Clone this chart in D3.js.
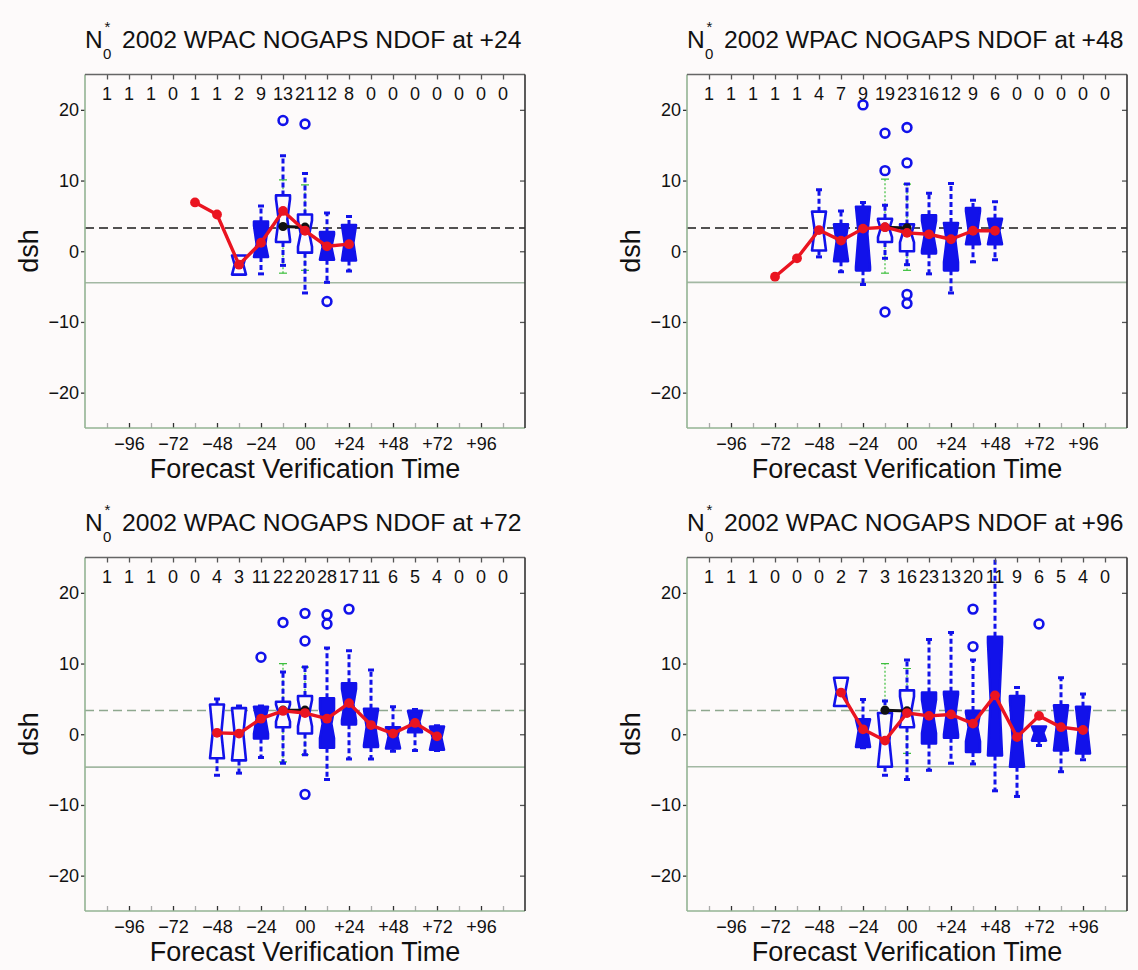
<!DOCTYPE html>
<html>
<head>
<meta charset="utf-8">
<script src="https://cdn.jsdelivr.net/npm/d3@7"></script>
<style>
  html, body { margin: 0; padding: 0; background: #fdfafa; }
  svg { display: block; font-family: "Liberation Sans", Arial, Helvetica, sans-serif; }
</style>
</head>
<body>
<svg id="chart" width="1138" height="970"></svg>
<script>
// ---------------- axis definitions ----------------
const tickHours = [-108, -96, -84, -72, -60, -48, -36, -24, -12, 0, 12, 24, 36, 48, 60, 72, 84, 96, 108];
const labelHours = [-96, -72, -48, -24, 0, 24, 48, 72, 96];
const labelText = ["\u221296", "\u221272", "\u221248", "\u221224", "00", "+24", "+48", "+72", "+96"];
const yTickValues = [20, 10, 0, -10, -20];
const yTickText = ["20", "10", "0", "\u221210", "\u221220"];
const leadLabels = ["+24", "+48", "+72", "+96"];

// reference levels (dashed upper, solid lower) per panel
const upperRef = [3.3, 3.3, 3.35, 3.35];
const lowerRef = [-4.45, -4.4, -4.65, -4.6];

// ---------------- sample counts per verification time ----------------
const counts24 = [1, 1, 1, 0, 1, 1, 2, 9, 13, 21, 12, 8, 0, 0, 0, 0, 0, 0, 0];
const counts48 = [1, 1, 1, 1, 1, 4, 7, 9, 19, 23, 16, 12, 9, 6, 0, 0, 0, 0, 0];
const counts72 = [1, 1, 1, 0, 0, 4, 3, 11, 22, 20, 28, 17, 11, 6, 5, 4, 0, 0, 0];
const counts96 = [1, 1, 1, 0, 0, 0, 2, 7, 3, 16, 23, 13, 20, 11, 9, 6, 5, 4, 0];

// ---------------- mean curve (red) ----------------
const meanHours24 = [-60, -48, -36, -24, -12, 0, 12, 24];
const means24 = [6.9, 5.2, -1.9, 1.2, 5.7, 2.9, 0.7, 1.0];
const meanHours48 = [-72, -60, -48, -36, -24, -12, 0, 12, 24, 36, 48];
const means48 = [-3.6, -1.0, 3.0, 1.5, 3.2, 3.4, 2.6, 2.4, 1.7, 2.9, 2.9];
const meanHours72 = [-48, -36, -24, -12, 0, 12, 24, 36, 48, 60, 72];
const means72 = [0.2, 0.1, 2.2, 3.3, 3.0, 2.2, 4.4, 1.3, 0.1, 1.6, -0.3];
const meanHours96 = [-36, -24, -12, 0, 12, 24, 36, 48, 60, 72, 84, 96];
const means96 = [5.9, 0.7, -0.9, 3.0, 2.6, 2.8, 1.5, 5.5, -0.4, 2.6, 1.0, 0.6];

// ---------------- box statistics ----------------
const boxHours24 = [-36, -24, -12, 0, 12, 24];
const q1_24  = [-3.3, -0.8, 1.3, -0.2, -1.2, -1.3];
const med24  = [-1.9, 1.0, 4.5, 2.5, 0.6, 1.2];
const q3_24  = [-0.6, 4.2, 7.9, 5.2, 2.7, 3.7];
const lo24   = [-3.3, -3.2, -2.0, -5.9, -4.4, -2.8];
const hi24   = [-0.6, 6.4, 13.5, 11.0, 5.4, 4.9];
const hollow24 = [1, 0, 1, 1, 0, 0];
const outliers24 = [[-12, 18.5], [0, 18.0], [12, -7.1]];

const boxHours48 = [-48, -36, -24, -12, 0, 12, 24, 36, 48];
const q1_48  = [0.1, -1.4, -2.7, 1.3, 0.0, -0.3, -2.7, 1.0, 1.0];
const med48  = [3.0, 1.4, 2.5, 3.2, 2.5, 2.2, 1.5, 3.0, 2.9];
const q3_48  = [5.6, 3.8, 6.3, 4.6, 3.8, 5.1, 4.0, 6.1, 4.6];
const lo48   = [-0.8, -2.9, -4.7, -1.0, -1.9, -3.2, -5.9, -1.5, -1.2];
const hi48   = [8.7, 5.7, 6.9, 6.5, 9.5, 8.2, 9.6, 7.2, 7.0];
const hollow48 = [1, 0, 0, 1, 1, 0, 0, 0, 0];
const outliers48 = [[-24, 20.7], [-12, 16.7], [-12, 11.4], [-12, -8.6], [0, 17.5], [0, 12.5], [0, -6.1], [0, -7.4]];

const boxHours72 = [-48, -36, -24, -12, 0, 12, 24, 36, 48, 60, 72];
const q1_72  = [-3.4, -3.7, -0.6, 1.0, 0.1, -1.9, 1.4, -1.8, -2.0, 0.3, -2.2];
const med72  = [0.2, 0.1, 2.2, 3.0, 3.0, 1.5, 4.2, 1.0, -0.3, 1.8, -0.5];
const q3_72  = [4.2, 3.7, 3.9, 4.6, 5.4, 5.1, 7.2, 3.6, 1.0, 3.3, 1.1];
const lo72   = [-5.8, -5.5, -3.3, -4.1, -2.9, -6.4, -3.5, -3.5, -2.4, -2.3, -2.3];
const hi72   = [5.0, 4.0, 4.0, 8.8, 9.5, 12.2, 11.8, 9.1, 3.9, 3.5, 1.2];
const hollow72 = [1, 1, 0, 1, 1, 0, 0, 0, 0, 0, 0];
const outliers72 = [[-24, 10.9], [-12, 15.8], [0, 17.1], [0, 13.2], [0, -8.5], [12, 16.9], [12, 15.6], [24, 17.7]];

const boxHours96 = [-36, -24, -12, 0, 12, 24, 36, 48, 60, 72, 84, 96];
const q1_96  = [4.0, -1.8, -4.6, 1.0, -1.3, -0.5, -2.5, -3.0, -4.6, -0.9, -2.3, -2.7];
const med96  = [6.0, 0.5, -0.9, 3.3, 2.5, 2.8, 1.0, 5.0, -0.5, 0.2, 1.0, 0.6];
const q3_96  = [8.0, 2.1, 3.0, 6.2, 5.9, 6.0, 3.3, 13.8, 5.4, 1.1, 4.1, 3.9];
const lo96   = [4.0, -1.9, -5.8, -6.4, -5.1, -4.1, -4.2, -8.0, -8.8, -1.6, -5.3, -3.6];
const hi96   = [8.0, 4.9, 4.7, 10.5, 13.4, 14.4, 10.5, 27.0, 6.6, 1.1, 8.0, 5.7];
const hollow96 = [1, 0, 1, 1, 0, 0, 0, 0, 0, 0, 0, 0];
const outliers96 = [[36, 17.7], [36, 12.4], [72, 15.6]];

// ---------------- green interval and black reference pair ----------------
const pairHours = [-12, 0];
const ciLo24 = [-3.1, -2.7], ciHi24 = [10.1, 9.4], pair24 = [3.5, 3.4];
const ciLo48 = [-3.1, -2.7], ciHi48 = [10.2, 9.5], pair48 = [3.4, 3.3];
const ciLo72 = [-3.9, -2.9], ciHi72 = [10.0, 9.5], pair72 = [3.4, 3.4];
const ciLo96 = [-3.2, -2.7], ciHi96 = [10.0, 9.3], pair96 = [3.4, 3.3];

// ---------------- panel table ----------------
const panels = [
  { lead: leadLabels[0], dx: 0,   dy: 0,   counts: counts24, mh: meanHours24, mv: means24,
    bh: boxHours24, q1: q1_24, med: med24, q3: q3_24, lo: lo24, hi: hi24, hollow: hollow24, out: outliers24,
    ciLo: ciLo24, ciHi: ciHi24, pair: pair24, dash: "#1a1a1a" },
  { lead: leadLabels[1], dx: 602, dy: 0,   counts: counts48, mh: meanHours48, mv: means48,
    bh: boxHours48, q1: q1_48, med: med48, q3: q3_48, lo: lo48, hi: hi48, hollow: hollow48, out: outliers48,
    ciLo: ciLo48, ciHi: ciHi48, pair: pair48, dash: "#1a1a1a" },
  { lead: leadLabels[2], dx: 0,   dy: 483, counts: counts72, mh: meanHours72, mv: means72,
    bh: boxHours72, q1: q1_72, med: med72, q3: q3_72, lo: lo72, hi: hi72, hollow: hollow72, out: outliers72,
    ciLo: ciLo72, ciHi: ciHi72, pair: pair72, dash: "#8fa88f" },
  { lead: leadLabels[3], dx: 602, dy: 483, counts: counts96, mh: meanHours96, mv: means96,
    bh: boxHours96, q1: q1_96, med: med96, q3: q3_96, lo: lo96, hi: hi96, hollow: hollow96, out: outliers96,
    ciLo: ciLo96, ciHi: ciHi96, pair: pair96, dash: "#8fa88f" }
];

// ---------------- drawing ----------------
const BLUE = "#1212ea", RED = "#ea1420", GREEN = "#3cbf3c", BG = "#fdfafa";
const svg = d3.select("#chart");
svg.append("rect").attr("width", 1138).attr("height", 970).attr("fill", BG);

const X0 = 85, X1 = 525, YT = 74.5, YB = 428;

panels.forEach((p, i) => {
  const g = svg.append("g").attr("transform", `translate(${p.dx},${p.dy})`);
  const x = d3.scaleLinear().domain([-120, 120]).range([X0, X1]);
  const y = d3.scaleLinear().domain([-25, 25]).range([YB, YT]);

  // title: N with subscript 0 and superscript *
  g.append("text").attr("x", 85).attr("y", 48).attr("font-size", 24.5).attr("fill", "#111").text("N");
  g.append("text").attr("x", 103).attr("y", 59).attr("font-size", 15).attr("fill", "#111").text("0");
  g.append("text").attr("x", 104.5).attr("y", 32).attr("font-size", 15).attr("fill", "#111").text("*");
  g.append("text").attr("x", 122).attr("y", 48).attr("font-size", 24.7).attr("fill", "#111")
    .text("2002 WPAC NOGAPS NDOF at " + p.lead);

  const clipId = "plotclip" + i;
  g.append("clipPath").attr("id", clipId).append("rect")
    .attr("x", X0).attr("y", YT).attr("width", X1 - X0).attr("height", YB - YT);
  const plot = g.append("g").attr("clip-path", `url(#${clipId})`);

  // reference lines
  plot.append("line").attr("x1", X0).attr("x2", X1)
    .attr("y1", y(lowerRef[i])).attr("y2", y(lowerRef[i]))
    .attr("stroke", "#a3b8a3").attr("stroke-width", 1.6);
  plot.append("line").attr("x1", X0).attr("x2", X1)
    .attr("y1", y(upperRef[i])).attr("y2", y(upperRef[i]))
    .attr("stroke", p.dash).attr("stroke-width", 1.5).attr("stroke-dasharray", "9,5");

  // green interval bars
  pairHours.forEach((h, k) => {
    const cx = x(h);
    plot.append("line").attr("x1", cx).attr("x2", cx).attr("y1", y(p.ciLo[k])).attr("y2", y(p.ciHi[k]))
      .attr("stroke", GREEN).attr("stroke-width", 1.2).attr("stroke-dasharray", "2,2");
    [p.ciLo[k], p.ciHi[k]].forEach(v => {
      plot.append("line").attr("x1", cx - 4).attr("x2", cx + 4).attr("y1", y(v)).attr("y2", y(v))
        .attr("stroke", GREEN).attr("stroke-width", 1.2);
    });
  });

  // whiskers
  const hw = 7, capW = 3;
  p.bh.forEach((h, k) => {
    const cx = x(h);
    const segs = [[p.q3[k], p.hi[k]], [p.q1[k], p.lo[k]]];
    segs.forEach(([a, b]) => {
      if (Math.abs(b - a) < 0.05) return;
      plot.append("line").attr("x1", cx).attr("x2", cx).attr("y1", y(a)).attr("y2", y(b))
        .attr("stroke", BLUE).attr("stroke-width", 3).attr("stroke-dasharray", "5,3");
      plot.append("line").attr("x1", cx - capW).attr("x2", cx + capW).attr("y1", y(b)).attr("y2", y(b))
        .attr("stroke", BLUE).attr("stroke-width", 3);
    });
  });

  // notched boxes
  p.bh.forEach((h, k) => {
    const cx = x(h);
    const n = p.counts[tickHours.indexOf(h)];
    const q1 = p.q1[k], q3 = p.q3[k], md = p.med[k];
    const notch = 1.57 * (q3 - q1) / Math.sqrt(n);
    const nlo = Math.max(q1, md - notch), nhi = Math.min(q3, md + notch);
    const d = hw * 0.38;
    const pts = [
      [cx - hw, y(q1)], [cx - hw, y(nlo)], [cx - hw + d, y(md)], [cx - hw, y(nhi)], [cx - hw, y(q3)],
      [cx + hw, y(q3)], [cx + hw, y(nhi)], [cx + hw - d, y(md)], [cx + hw, y(nlo)], [cx + hw, y(q1)]
    ];
    plot.append("path").attr("d", d3.line()(pts) + "Z")
      .attr("fill", p.hollow[k] ? BG : BLUE)
      .attr("stroke", BLUE).attr("stroke-width", 2.6).attr("stroke-linejoin", "round");
  });

  // outliers
  plot.selectAll(".out").data(p.out).join("circle")
    .attr("cx", d => x(d[0])).attr("cy", d => y(d[1])).attr("r", 4.4)
    .attr("fill", "none").attr("stroke", BLUE).attr("stroke-width", 2.6);

  // black reference pair
  plot.append("path").attr("d", d3.line()(pairHours.map((h, k) => [x(h), y(p.pair[k])])))
    .attr("stroke", "#111").attr("stroke-width", 3).attr("fill", "none");
  plot.selectAll(".pair").data(pairHours).join("circle")
    .attr("cx", d => x(d)).attr("cy", (d, k) => y(p.pair[k])).attr("r", 4.6).attr("fill", "#111");

  // mean curve
  const meanPts = p.mh.map((h, k) => [x(h), y(p.mv[k])]);
  plot.append("path").attr("d", d3.line()(meanPts))
    .attr("stroke", RED).attr("stroke-width", 3.4).attr("fill", "none").attr("stroke-linejoin", "round");
  plot.selectAll(".mean").data(meanPts).join("circle")
    .attr("cx", d => d[0]).attr("cy", d => d[1]).attr("r", 4.9).attr("fill", RED);

  // sample counts
  g.selectAll(".cnt").data(p.counts).join("text")
    .attr("x", (d, k) => x(tickHours[k])).attr("y", 100)
    .attr("text-anchor", "middle").attr("font-size", 18).attr("fill", "#111")
    .text(d => d);

  // axes
  const bottom = g.append("g").attr("transform", `translate(0,${YB})`)
    .call(d3.axisBottom(x).tickValues(tickHours).tickSizeInner(-5).tickSizeOuter(0).tickPadding(9)
      .tickFormat(d => { const j = labelHours.indexOf(d); return j >= 0 ? labelText[j] : ""; }));
  bottom.select(".domain").remove();
  bottom.selectAll(".tick line").attr("stroke", d => labelHours.includes(d) ? "#333" : "#aaa").attr("stroke-width", 1.3);
  bottom.selectAll(".tick text").attr("font-size", 18).attr("fill", "#111").attr("font-family", null);

  const top = g.append("g").attr("transform", `translate(0,${YT})`)
    .call(d3.axisTop(x).tickValues(tickHours).tickSizeInner(-5).tickSizeOuter(0).tickFormat(""));
  top.select(".domain").remove();
  top.selectAll(".tick line").attr("stroke", "#555").attr("stroke-width", 1.3);

  const left = g.append("g").attr("transform", `translate(${X0},0)`)
    .call(d3.axisLeft(y).tickValues(yTickValues).tickSizeInner(4).tickSizeOuter(0).tickPadding(2)
      .tickFormat((d, k) => yTickText[k]));
  left.select(".domain").remove();
  left.selectAll(".tick line").attr("stroke", "#333").attr("stroke-width", 1.3);
  left.selectAll(".tick text").attr("font-size", 18).attr("fill", "#111").attr("font-family", null);

  const right = g.append("g").attr("transform", `translate(${X1},0)`)
    .call(d3.axisRight(y).tickValues(yTickValues).tickSizeInner(-5).tickSizeOuter(0).tickFormat(""));
  right.select(".domain").remove();
  right.selectAll(".tick line").attr("stroke", "#555").attr("stroke-width", 1.3);

  // frame: light left/bottom, dark top/right
  g.append("line").attr("x1", X0).attr("x2", X0).attr("y1", YT).attr("y2", YB).attr("stroke", "#93b393").attr("stroke-width", 1.6);
  g.append("line").attr("x1", X0).attr("x2", X1).attr("y1", YB).attr("y2", YB).attr("stroke", "#93b393").attr("stroke-width", 1.6);
  g.append("line").attr("x1", X0).attr("x2", X1).attr("y1", YT).attr("y2", YT).attr("stroke", "#666").attr("stroke-width", 1.5);
  g.append("line").attr("x1", X1).attr("x2", X1).attr("y1", YT).attr("y2", YB).attr("stroke", "#333").attr("stroke-width", 1.6);

  // axis titles
  g.append("text").attr("x", 305).attr("y", 478).attr("text-anchor", "middle")
    .attr("font-size", 27).attr("fill", "#111").text("Forecast Verification Time");
  g.append("text").attr("transform", "translate(38,251) rotate(-90)").attr("text-anchor", "middle")
    .attr("font-size", 27).attr("fill", "#111").text("dsh");
});
</script>
</body>
</html>
